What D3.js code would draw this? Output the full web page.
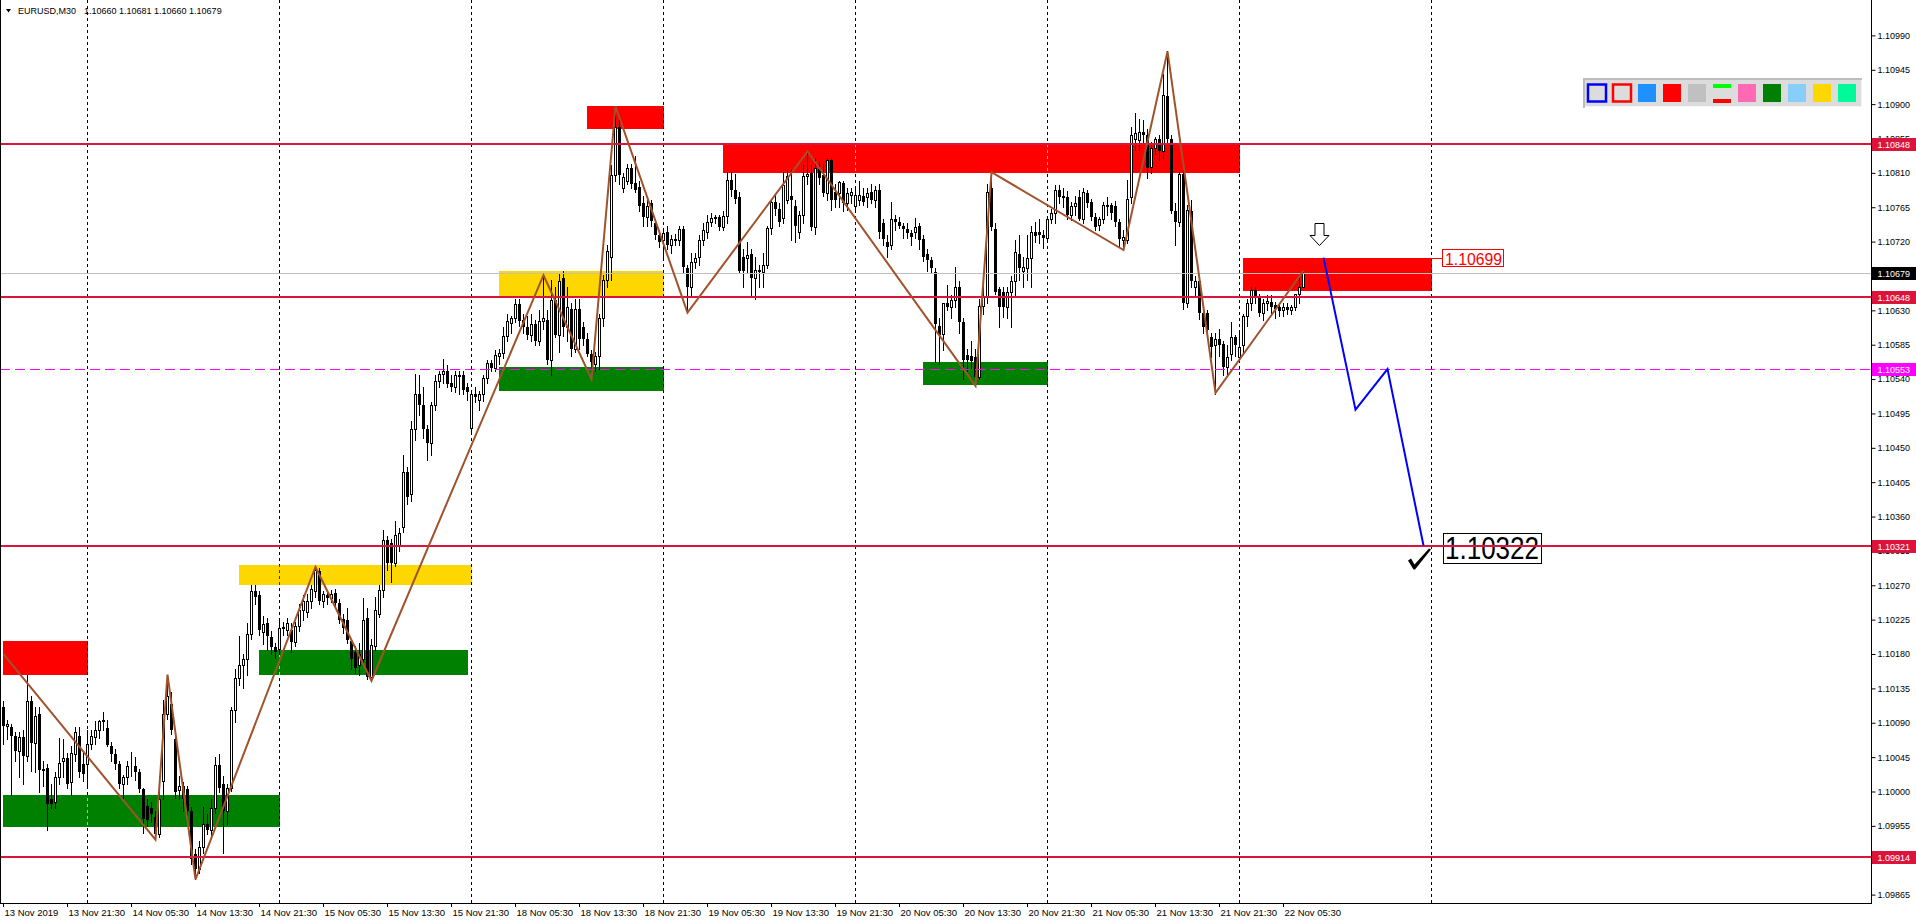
<!DOCTYPE html>
<html><head><meta charset="utf-8">
<script src="https://cdn.jsdelivr.net/npm/d3@7"></script>
<style>html,body{margin:0;padding:0;background:#fff;overflow:hidden}</style>
</head><body>
<svg id="c" width="1916" height="923" xmlns="http://www.w3.org/2000/svg"></svg>
<script>
// ---------------- DATA ----------------
const symbolName = "EURUSD,M30";
const headerOHLC = ["1.10660", "1.10681", "1.10660", "1.10679"];

// M30 bars from 13 Nov 2019 13:30 to 22 Nov 2019 08:00 : [open, high, low, close]
const candles = [
[1.10110,1.10119,1.10062,1.10086],[1.10086,1.10093,1.10069,1.10088],[1.10084,1.10088,1.09995,1.10073],[1.10073,1.10078,1.10040,1.10053],
[1.10053,1.10078,1.10019,1.10071],[1.10071,1.10080,1.10010,1.10047],[1.10047,1.10152,1.10040,1.10119],[1.10119,1.10125,1.10027,1.10063],
[1.10063,1.10110,1.10025,1.10099],[1.10101,1.10110,1.09999,1.10028],[1.10028,1.10040,1.10007,1.10029],[1.10031,1.10036,1.09949,1.09984],
[1.09990,1.10010,1.09978,1.09984],[1.09986,1.10025,1.09978,1.10019],[1.10019,1.10070,1.10010,1.10037],[1.10040,1.10069,1.10019,1.10044],
[1.10044,1.10050,1.10005,1.10010],[1.10012,1.10060,1.09995,1.10051],[1.10049,1.10084,1.10040,1.10078],[1.10073,1.10085,1.10019,1.10025],
[1.10036,1.10050,1.10014,1.10023],[1.10036,1.10080,1.10005,1.10062],[1.10062,1.10080,1.10055,1.10073],[1.10072,1.10092,1.10062,1.10080],
[1.10080,1.10094,1.10070,1.10092],[1.10092,1.10104,1.10080,1.10093],[1.10083,1.10093,1.10060,1.10061],[1.10059,1.10065,1.10040,1.10049],
[1.10049,1.10055,1.10030,1.10036],[1.10036,1.10040,1.10005,1.10010],[1.10010,1.10022,1.09992,1.10019],[1.10019,1.10040,1.10010,1.10033],
[1.10033,1.10052,1.10020,1.10034],[1.10034,1.10045,1.10015,1.10026],[1.10026,1.10030,1.09999,1.10003],[1.10003,1.10005,1.09946,1.09964],
[1.09981,1.09990,1.09955,1.09963],[1.09979,1.09986,1.09960,1.09970],[1.09966,1.09975,1.09938,1.09944],[1.09944,1.10020,1.09940,1.09990],
[1.10014,1.10120,1.09990,1.10102],[1.10102,1.10153,1.10095,1.10125],[1.10115,1.10130,1.10075,1.10080],[1.10069,1.10080,1.09992,1.09999],
[1.10002,1.10020,1.09990,1.10007],[1.10007,1.10012,1.09975,1.09990],[1.10003,1.10007,1.09960,1.09975],[1.09975,1.09980,1.09905,1.09911],
[1.09918,1.09925,1.09885,1.09898],[1.09898,1.09935,1.09893,1.09927],[1.09927,1.09980,1.09920,1.09957],[1.09957,1.09970,1.09945,1.09949],
[1.09949,1.09990,1.09940,1.09978],[1.09978,1.10045,1.09972,1.10035],[1.10035,1.10049,1.09999,1.10005],[1.10010,1.10020,1.09920,1.09975],
[1.09975,1.10010,1.09957,1.10005],[1.10005,1.10110,1.10000,1.10107],[1.10107,1.10160,1.10091,1.10149],[1.10149,1.10204,1.10140,1.10166],
[1.10166,1.10180,1.10135,1.10174],[1.10174,1.10220,1.10152,1.10206],[1.10206,1.10270,1.10200,1.10263],[1.10263,1.10270,1.10245,1.10255],
[1.10257,1.10262,1.10205,1.10212],[1.10209,1.10230,1.10193,1.10219],[1.10220,1.10227,1.10185,1.10204],[1.10202,1.10210,1.10180,1.10189],
[1.10189,1.10195,1.10175,1.10182],[1.10187,1.10225,1.10180,1.10214],[1.10215,1.10222,1.10205,1.10213],[1.10211,1.10227,1.10205,1.10220],
[1.10211,1.10220,1.10182,1.10196],[1.10196,1.10222,1.10190,1.10217],[1.10217,1.10245,1.10210,1.10237],[1.10237,1.10257,1.10225,1.10250],
[1.10235,1.10258,1.10228,1.10249],[1.10249,1.10270,1.10240,1.10265],[1.10263,1.10294,1.10255,1.10290],[1.10289,1.10292,1.10245,1.10250],
[1.10250,1.10262,1.10241,1.10258],[1.10257,1.10263,1.10245,1.10253],[1.10253,1.10264,1.10248,1.10259],[1.10260,1.10265,1.10240,1.10247],
[1.10247,1.10252,1.10220,1.10224],[1.10226,1.10232,1.10207,1.10214],[1.10225,1.10240,1.10195,1.10199],[1.10197,1.10200,1.10160,1.10174],
[1.10182,1.10190,1.10155,1.10162],[1.10165,1.10194,1.10152,1.10180],[1.10174,1.10254,1.10165,1.10225],[1.10227,1.10240,1.10147,1.10150],
[1.10150,1.10200,1.10145,1.10192],[1.10190,1.10255,1.10185,1.10237],[1.10232,1.10270,1.10228,1.10264],[1.10264,1.10342,1.10255,1.10329],
[1.10329,1.10335,1.10290,1.10299],[1.10326,1.10330,1.10274,1.10299],[1.10299,1.10354,1.10295,1.10336],[1.10321,1.10345,1.10315,1.10339],
[1.10346,1.10440,1.10340,1.10418],[1.10418,1.10425,1.10376,1.10386],[1.10389,1.10485,1.10380,1.10474],[1.10474,1.10546,1.10460,1.10521],
[1.10521,1.10545,1.10493,1.10506],[1.10506,1.10530,1.10463,1.10474],[1.10474,1.10480,1.10434,1.10456],[1.10456,1.10510,1.10441,1.10506],
[1.10506,1.10545,1.10500,1.10538],[1.10538,1.10550,1.10530,1.10547],[1.10546,1.10566,1.10535,1.10550],[1.10550,1.10558,1.10530,1.10533],
[1.10535,1.10545,1.10525,1.10530],[1.10530,1.10550,1.10523,1.10545],[1.10545,1.10550,1.10520,1.10543],[1.10545,1.10550,1.10520,1.10526],
[1.10530,1.10535,1.10513,1.10523],[1.10476,1.10525,1.10470,1.10521],[1.10521,1.10530,1.10510,1.10516],[1.10513,1.10525,1.10500,1.10520],
[1.10520,1.10545,1.10511,1.10541],[1.10541,1.10565,1.10535,1.10561],[1.10561,1.10565,1.10550,1.10555],[1.10555,1.10578,1.10550,1.10572],
[1.10570,1.10580,1.10560,1.10574],[1.10574,1.10608,1.10568,1.10596],[1.10596,1.10625,1.10590,1.10616],[1.10613,1.10623,1.10600,1.10620],
[1.10620,1.10645,1.10615,1.10638],[1.10638,1.10645,1.10610,1.10616],[1.10618,1.10625,1.10600,1.10608],[1.10608,1.10623,1.10593,1.10598],
[1.10598,1.10625,1.10590,1.10612],[1.10612,1.10618,1.10584,1.10590],[1.10590,1.10630,1.10585,1.10616],[1.10616,1.10676,1.10605,1.10620],
[1.10618,1.10630,1.10560,1.10565],[1.10565,1.10670,1.10545,1.10644],[1.10644,1.10660,1.10595,1.10598],[1.10598,1.10678,1.10576,1.10669],
[1.10673,1.10682,1.10596,1.10608],[1.10608,1.10660,1.10590,1.10634],[1.10632,1.10640,1.10570,1.10580],[1.10580,1.10645,1.10575,1.10632],
[1.10632,1.10645,1.10580,1.10593],[1.10608,1.10615,1.10585,1.10593],[1.10593,1.10600,1.10570,1.10573],[1.10573,1.10578,1.10540,1.10563],
[1.10560,1.10575,1.10550,1.10570],[1.10570,1.10625,1.10553,1.10620],[1.10620,1.10676,1.10610,1.10670],[1.10670,1.10715,1.10660,1.10708],
[1.10700,1.10820,1.10670,1.10807],[1.10807,1.10897,1.10800,1.10870],[1.10870,1.10885,1.10795,1.10807],[1.10790,1.10810,1.10785,1.10805],
[1.10800,1.10822,1.10795,1.10817],[1.10817,1.10822,1.10790,1.10795],[1.10797,1.10832,1.10785,1.10787],[1.10792,1.10800,1.10760,1.10767],
[1.10770,1.10780,1.10740,1.10752],[1.10752,1.10775,1.10740,1.10767],[1.10770,1.10775,1.10740,1.10747],[1.10745,1.10750,1.10723,1.10728],
[1.10728,1.10735,1.10713,1.10720],[1.10722,1.10735,1.10700,1.10731],[1.10733,1.10740,1.10710,1.10715],[1.10715,1.10728,1.10705,1.10724],
[1.10722,1.10730,1.10715,1.10724],[1.10722,1.10740,1.10715,1.10737],[1.10737,1.10740,1.10680,1.10687],[1.10685,1.10690,1.10628,1.10661],
[1.10661,1.10705,1.10650,1.10693],[1.10693,1.10705,1.10685,1.10698],[1.10700,1.10728,1.10690,1.10722],[1.10722,1.10745,1.10715,1.10735],
[1.10733,1.10755,1.10725,1.10746],[1.10746,1.10757,1.10740,1.10751],[1.10751,1.10755,1.10745,1.10752],[1.10752,1.10755,1.10735,1.10739],
[1.10739,1.10760,1.10735,1.10754],[1.10754,1.10811,1.10745,1.10801],[1.10801,1.10811,1.10780,1.10787],[1.10788,1.10809,1.10770,1.10776],
[1.10779,1.10785,1.10680,1.10682],[1.10700,1.10710,1.10661,1.10682],[1.10698,1.10720,1.10680,1.10703],[1.10704,1.10710,1.10650,1.10672],
[1.10672,1.10700,1.10645,1.10683],[1.10683,1.10690,1.10660,1.10680],[1.10680,1.10705,1.10660,1.10689],[1.10689,1.10740,1.10685,1.10738],
[1.10738,1.10774,1.10730,1.10772],[1.10772,1.10781,1.10755,1.10763],[1.10763,1.10770,1.10740,1.10746],[1.10751,1.10811,1.10745,1.10794],
[1.10775,1.10815,1.10770,1.10806],[1.10780,1.10815,1.10722,1.10774],[1.10766,1.10775,1.10720,1.10741],[1.10733,1.10760,1.10725,1.10755],
[1.10755,1.10820,1.10745,1.10806],[1.10806,1.10838,1.10795,1.10809],[1.10810,1.10820,1.10735,1.10739],[1.10739,1.10830,1.10730,1.10816],
[1.10815,1.10825,1.10795,1.10803],[1.10807,1.10822,1.10780,1.10783],[1.10783,1.10830,1.10775,1.10827],[1.10827,1.10830,1.10761,1.10774],
[1.10785,1.10795,1.10765,1.10774],[1.10784,1.10800,1.10765,1.10798],[1.10797,1.10800,1.10760,1.10771],[1.10770,1.10790,1.10762,1.10784],
[1.10781,1.10790,1.10770,1.10785],[1.10767,1.10790,1.10760,1.10781],[1.10775,1.10800,1.10768,1.10781],[1.10780,1.10790,1.10768,1.10772],
[1.10778,1.10790,1.10765,1.10783],[1.10785,1.10796,1.10770,1.10774],[1.10774,1.10793,1.10765,1.10787],[1.10788,1.10796,1.10725,1.10733],
[1.10744,1.10750,1.10715,1.10723],[1.10720,1.10728,1.10700,1.10713],[1.10715,1.10772,1.10710,1.10750],[1.10750,1.10755,1.10735,1.10746],
[1.10746,1.10752,1.10738,1.10741],[1.10741,1.10745,1.10725,1.10736],[1.10737,1.10745,1.10725,1.10731],[1.10731,1.10735,1.10715,1.10726],
[1.10733,1.10751,1.10725,1.10739],[1.10741,1.10745,1.10710,1.10722],[1.10724,1.10728,1.10695,1.10700],[1.10704,1.10710,1.10682,1.10696],
[1.10696,1.10700,1.10680,1.10686],[1.10680,1.10685,1.10562,1.10612],[1.10610,1.10620,1.10560,1.10598],[1.10599,1.10640,1.10578,1.10640],
[1.10640,1.10663,1.10630,1.10635],[1.10635,1.10650,1.10620,1.10643],[1.10643,1.10687,1.10635,1.10661],[1.10661,1.10668,1.10600,1.10615],
[1.10615,1.10620,1.10540,1.10565],[1.10571,1.10580,1.10551,1.10565],[1.10570,1.10590,1.10555,1.10564],[1.10569,1.10580,1.10531,1.10543],
[1.10543,1.10645,1.10540,1.10636],[1.10636,1.10660,1.10625,1.10648],[1.10648,1.10796,1.10640,1.10785],[1.10790,1.10811,1.10735,1.10739],
[1.10737,1.10745,1.10652,1.10654],[1.10658,1.10660,1.10608,1.10634],[1.10654,1.10660,1.10621,1.10634],[1.10634,1.10661,1.10620,1.10654],
[1.10654,1.10675,1.10608,1.10668],[1.10668,1.10722,1.10650,1.10707],[1.10704,1.10729,1.10670,1.10685],[1.10681,1.10700,1.10660,1.10687],
[1.10685,1.10729,1.10670,1.10699],[1.10698,1.10740,1.10660,1.10733],[1.10733,1.10746,1.10720,1.10727],[1.10732,1.10749,1.10718,1.10728],
[1.10728,1.10735,1.10711,1.10725],[1.10725,1.10752,1.10720,1.10750],[1.10750,1.10763,1.10745,1.10757],[1.10757,1.10794,1.10745,1.10787],
[1.10787,1.10794,1.10770,1.10778],[1.10780,1.10790,1.10765,1.10777],[1.10779,1.10786,1.10750,1.10755],[1.10755,1.10772,1.10748,1.10766],
[1.10766,1.10780,1.10755,1.10771],[1.10779,1.10787,1.10748,1.10750],[1.10750,1.10790,1.10745,1.10785],[1.10783,1.10787,1.10765,1.10770],
[1.10772,1.10776,1.10748,1.10752],[1.10752,1.10757,1.10735,1.10739],[1.10742,1.10752,1.10735,1.10750],[1.10750,1.10772,1.10745,1.10768],
[1.10766,1.10779,1.10755,1.10768],[1.10768,1.10770,1.10750,1.10757],[1.10767,1.10773,1.10740,1.10746],[1.10746,1.10750,1.10713,1.10724],
[1.10722,1.10735,1.10709,1.10726],[1.10722,1.10801,1.10718,1.10776],[1.10779,1.10870,1.10770,1.10860],[1.10854,1.10888,1.10840,1.10862],
[1.10853,1.10880,1.10840,1.10864],[1.10864,1.10879,1.10848,1.10860],[1.10860,1.10868,1.10803,1.10816],[1.10818,1.10850,1.10810,1.10842],
[1.10842,1.10857,1.10835,1.10854],[1.10854,1.10860,1.10827,1.10838],[1.10838,1.10940,1.10830,1.10912],[1.10910,1.10969,1.10850,1.10854],
[1.10854,1.10860,1.10758,1.10760],[1.10760,1.10770,1.10715,1.10746],[1.10746,1.10811,1.10740,1.10809],[1.10809,1.10815,1.10632,1.10639],
[1.10639,1.10768,1.10635,1.10761],[1.10760,1.10774,1.10660,1.10669],[1.10661,1.10675,1.10650,1.10669],[1.10668,1.10675,1.10619,1.10626],
[1.10626,1.10630,1.10600,1.10608],[1.10626,1.10630,1.10595,1.10604],[1.10595,1.10600,1.10569,1.10582],[1.10584,1.10600,1.10521,1.10593],
[1.10593,1.10605,1.10570,1.10584],[1.10586,1.10590,1.10545,1.10556],[1.10556,1.10585,1.10547,1.10569],[1.10573,1.10615,1.10565,1.10595],
[1.10595,1.10598,1.10570,1.10584],[1.10569,1.10600,1.10562,1.10582],[1.10584,1.10625,1.10573,1.10622],[1.10622,1.10645,1.10610,1.10639],
[1.10639,1.10660,1.10630,1.10656],[1.10656,1.10660,1.10640,1.10648],[1.10648,1.10652,1.10622,1.10626],[1.10626,1.10645,1.10617,1.10639],
[1.10639,1.10650,1.10630,1.10642],[1.10641,1.10650,1.10625,1.10634],[1.10637,1.10641,1.10620,1.10632],[1.10634,1.10638,1.10622,1.10629],
[1.10630,1.10640,1.10622,1.10635],[1.10635,1.10640,1.10625,1.10630],[1.10630,1.10637,1.10625,1.10634],[1.10634,1.10652,1.10630,1.10651],
[1.10651,1.10672,1.10640,1.10660],[1.10660,1.10681,1.10660,1.10679]
];

const timeLabels = ["13 Nov 2019","13 Nov 21:30","14 Nov 05:30","14 Nov 13:30","14 Nov 21:30","15 Nov 05:30","15 Nov 13:30",
  "15 Nov 21:30","18 Nov 05:30","18 Nov 13:30","18 Nov 21:30","19 Nov 05:30","19 Nov 13:30","19 Nov 21:30","20 Nov 05:30",
  "20 Nov 13:30","20 Nov 21:30","21 Nov 05:30","21 Nov 13:30","21 Nov 21:30","22 Nov 05:30"];
const timeLabelBars = [0,16,32,48,64,80,96,112,128,144,160,176,192,208,224,240,256,272,288,304,320];
const dayBars = [21,69,117,165,213,261,309,357];   // midnight separators

const priceTicks = [1.09865,1.09910,1.09955,1.10000,1.10045,1.10090,1.10135,1.10180,1.10225,1.10270,1.10315,1.10360,
  1.10405,1.10450,1.10495,1.10540,1.10585,1.10630,1.10675,1.10720,1.10765,1.10810,1.10855,1.10900,1.10945,1.10990];

const levelLines = [1.10848, 1.10648, 1.10321, 1.09914];
const currentPrice = 1.10679;
const dashedLevel = 1.10553;

// zones: [startBar, endBar, lowPrice, highPrice]
const redZones   = [[0,21,1.10153,1.10197],[146,165,1.10868,1.10898],[180,309,1.10810,1.10849],[310,357,1.10655,1.10699]];
const goldZones  = [[59,117,1.10270,1.10297],[124,165,1.10649,1.10681]];
const greenZones = [[0,69,1.09953,1.09995],[64,116,1.10153,1.10185],[124,165,1.10524,1.10556],[230,261,1.10532,1.10562]];

// zigzag swing points: [bar, price]
const zigzag = [[0,1.10180],[38,1.09937],[41,1.10153],[48,1.09885],[78,1.10294],[92,1.10145],[135,1.10676],[147,1.10540],
  [153,1.10897],[171,1.10627],[201,1.10838],[243,1.10531],[247,1.10811],[280,1.10709],[291,1.10969],[303,1.10522],[325,1.10682]];

// projected path: [bar, price]
const forecast = [[330,1.10699],[338,1.10500],[346,1.10553],[355,1.10322]];
const arrowMark = [329, 1.10715];
const zoneLabel = {bar:357, price:1.10699, text:"1.10699"};
const targetLabel = {bar:355, price:1.10322, text:"1.10322"};

const paletteColors = ["blueOutline","redOutline","#1E90FF","#FF0000","#C0C0C0","limeRed","#FF69B4","#008000","#87CEFA","#FFD700","#00FA9A"];

// ---------------- DRAW ----------------
const svg = d3.select("#c");
const FONT = "'Liberation Sans', Arial, sans-serif";
const plotR = 1871, plotB = 903;
const x = d3.scaleLinear().domain([0, 467]).range([3, 1871]);
const y = d3.scaleLinear().domain([1.09865, 1.10990]).range([894.6, 35.4]);
const ry = p => Math.round(y(p));

const clip = svg.append("defs").append("clipPath").attr("id","plot")
  .append("rect").attr("x",0).attr("y",0).attr("width",plotR).attr("height",plotB);
const plot = svg.append("g").attr("clip-path","url(#plot)");

// zones
const zoneSets = [
  {data: redZones, fill:"#FF0000", inv:"#00FFFF"},
  {data: goldZones, fill:"#FFD700", inv:"#0028FF"},
  {data: greenZones, fill:"#008000", inv:"#FF7FFF"}];
zoneSets.forEach(s => {
  plot.append("g").selectAll("rect").data(s.data).join("rect")
    .attr("x", d => x(d[0])).attr("width", d => x(d[1]) - x(d[0]) + 1)
    .attr("y", d => ry(d[3])).attr("height", d => ry(d[2]) - ry(d[3]))
    .attr("fill", s.fill);
});

// day separators (dashed)
plot.append("g").selectAll("line").data(dayBars).join("line")
  .attr("x1", d => x(d) + 0.5).attr("x2", d => x(d) + 0.5)
  .attr("y1", 0).attr("y2", plotB)
  .attr("stroke", "#000").attr("stroke-width", 1).attr("stroke-dasharray", "3,3");
// inverted separator segments inside zones
zoneSets.forEach(s => {
  s.data.forEach(z => {
    dayBars.forEach(g => {
      const gx = x(g) + 0.5;
      if (gx > x(z[0]) && gx < x(z[1])) {
        const y0 = ry(z[3]), y1 = ry(z[2]);
        plot.append("line").attr("x1", gx).attr("x2", gx).attr("y1", y0).attr("y2", y1)
          .attr("stroke", s.inv).attr("stroke-width", 1)
          .attr("stroke-dasharray", "3,3").attr("stroke-dashoffset", y0);
      }
    });
  });
});

// candles
const cg = plot.append("g").selectAll("g").data(candles).join("g");
cg.append("line")
  .attr("x1", (d,i) => x(i) + 0.5).attr("x2", (d,i) => x(i) + 0.5)
  .attr("y1", d => ry(d[1])).attr("y2", d => ry(d[2]) + 1)
  .attr("stroke", "#000").attr("stroke-width", 1);
cg.each(function(d, i) {
  const g = d3.select(this);
  const top = ry(Math.max(d[0], d[3])), bot = ry(Math.min(d[0], d[3]));
  if (d[3] >= d[0]) {
    g.append("rect").attr("x", x(i) - 0.5).attr("y", top + 0.5)
      .attr("width", 2).attr("height", Math.max(bot - top, 0))
      .attr("fill", "#fff").attr("stroke", "#000").attr("stroke-width", 1);
  } else {
    g.append("rect").attr("x", x(i) - 1).attr("y", top)
      .attr("width", 3).attr("height", Math.max(bot - top, 1)).attr("fill", "#000");
  }
});

// text labels on chart (boxes)
const zl = plot.append("g");
{
  const ax = x(zoneLabel.bar), ay = y(zoneLabel.price);
  zl.append("line").attr("x1", ax).attr("x2", ax + 11).attr("y1", Math.round(ay)+0.5).attr("y2", Math.round(ay)+0.5)
    .attr("stroke", "#FF0000").attr("stroke-width", 1);
  zl.append("rect").attr("x", ax + 11.5).attr("y", Math.round(ay) - 8.5).attr("width", 61).attr("height", 17)
    .attr("fill", "#fff").attr("stroke", "#FF0000").attr("stroke-width", 1);
  zl.append("text").attr("x", ax + 14).attr("y", Math.round(ay) + 6.5)
    .attr("font-family", FONT).attr("font-size", 17).attr("fill", "#FF0000")
    .attr("textLength", 57).attr("lengthAdjust", "spacingAndGlyphs").text(zoneLabel.text);
}
{
  const ax = x(targetLabel.bar), ay = Math.round(y(targetLabel.price));
  zl.append("rect").attr("x", ax + 20.5).attr("y", ay - 12.5).attr("width", 98).attr("height", 30)
    .attr("fill", "#fff").attr("stroke", "#000").attr("stroke-width", 1);
  zl.append("text").attr("x", ax + 22).attr("y", ay + 13)
    .attr("font-family", FONT).attr("font-size", 31).attr("fill", "#000")
    .attr("textLength", 94).attr("lengthAdjust", "spacingAndGlyphs").text(targetLabel.text);
}

// horizontal levels
plot.append("line").attr("x1", 0).attr("x2", plotR)
  .attr("y1", ry(currentPrice) + 0.5).attr("y2", ry(currentPrice) + 0.5)
  .attr("stroke", "#C0C0C0").attr("stroke-width", 1);
plot.append("line").attr("x1", 0).attr("x2", plotR)
  .attr("y1", ry(dashedLevel) + 0.5).attr("y2", ry(dashedLevel) + 0.5)
  .attr("stroke", "#FF00FF").attr("stroke-width", 1).attr("stroke-dasharray", "10,5");
plot.append("g").selectAll("line").data(levelLines).join("line")
  .attr("x1", 0).attr("x2", plotR).attr("y1", d => ry(d)).attr("y2", d => ry(d))
  .attr("stroke", "#DC143C").attr("stroke-width", 2);

// zigzag
const line = d3.line().x(d => x(d[0]) + 0.5).y(d => y(d[1]));
plot.append("path").attr("d", line(zigzag)).attr("fill", "none")
  .attr("stroke", "#A0522D").attr("stroke-width", 2).attr("stroke-linejoin", "miter");
// forecast
plot.append("path").attr("d", line(forecast)).attr("fill", "none")
  .attr("stroke", "#0000FF").attr("stroke-width", 2);

// arrow
{
  const ax = x(arrowMark[0]) + 0.5, ay = Math.round(y(arrowMark[1])) + 0.5;
  plot.append("path").attr("transform", `translate(${ax},${ay})`)
    .attr("d", "M-4.5,-22 H4.5 V-10 H9.5 L0,0 L-9.5,-10 H-4.5 Z")
    .attr("fill", "#fff").attr("stroke", "#000").attr("stroke-width", 1);
}
// check mark
{
  const ax = x(targetLabel.bar), ay = y(targetLabel.price);
  plot.append("path").attr("transform", `translate(${ax},${ay})`)
    .attr("d", "M-15,15 L-12,13 L-8.5,19 L6,3 L8,4 L-8,24 L-9.5,24 Z")
    .attr("fill", "#000");
}

// toolbar palette
{
  const tb = svg.append("g");
  tb.append("rect").attr("x", 1583).attr("y", 78).attr("width", 279).attr("height", 29).attr("fill", "#DCDCDC");
  tb.append("rect").attr("x", 1583).attr("y", 106).attr("width", 279).attr("height", 1).attr("fill", "#F4F4F4");
  tb.append("rect").attr("x", 1861).attr("y", 78).attr("width", 1).attr("height", 29).attr("fill", "#F4F4F4");
  tb.append("rect").attr("x", 1583).attr("y", 78).attr("width", 279).attr("height", 2).attr("fill", "#BDBDBD");
  tb.append("rect").attr("x", 1583).attr("y", 78).attr("width", 2).attr("height", 30).attr("fill", "#BDBDBD");
  paletteColors.forEach((c, k) => {
    const bx = 1588 + 25 * k, by = 84;
    if (c === "blueOutline" || c === "redOutline") {
      tb.append("rect").attr("x", bx + 0.5 - 0.5).attr("y", by + 0.5).attr("width", 18).attr("height", 17)
        .attr("fill", "none").attr("stroke", c === "blueOutline" ? "#0000FF" : "#FF0000").attr("stroke-width", 2.5);
    } else if (c === "limeRed") {
      tb.append("rect").attr("x", bx).attr("y", by).attr("width", 18).attr("height", 4).attr("fill", "#00FF00");
      tb.append("rect").attr("x", bx).attr("y", by + 15).attr("width", 18).attr("height", 4).attr("fill", "#FF0000");
    } else {
      tb.append("rect").attr("x", bx).attr("y", by).attr("width", 18).attr("height", 18).attr("fill", c);
    }
  });
}

// frame
svg.append("line").attr("x1", 0.5).attr("x2", 0.5).attr("y1", 0).attr("y2", plotB).attr("stroke", "#000");
svg.append("line").attr("x1", plotR + 0.5).attr("x2", plotR + 0.5).attr("y1", 0).attr("y2", plotB + 1).attr("stroke", "#000");
svg.append("line").attr("x1", 0).attr("x2", plotR + 1).attr("y1", plotB + 0.5).attr("y2", plotB + 0.5).attr("stroke", "#000");

// price axis
const ya = svg.append("g").attr("transform", `translate(${plotR + 0.5},0)`)
  .call(d3.axisRight(y).tickValues(priceTicks).tickFormat(d3.format(".5f")).tickSize(4).tickPadding(2));
ya.select(".domain").remove();
ya.selectAll("line").attr("stroke", "#000");
ya.selectAll("text").attr("font-family", FONT).attr("font-size", 9).attr("fill", "#000");

// time axis
const xa = svg.append("g").attr("transform", `translate(0,${plotB})`)
  .call(d3.axisBottom(x).tickValues(timeLabelBars).tickFormat((d, i) => timeLabels[i]).tickSize(4).tickPadding(2));
xa.select(".domain").remove();
xa.selectAll("line").attr("stroke", "#000");
xa.selectAll("text").attr("font-family", FONT).attr("font-size", 9.5).attr("fill", "#000")
  .attr("text-anchor", "start").attr("x", 1).attr("y", 4).attr("dy", "0.95em");

// axis price tags
const tags = levelLines.map(p => ({p, fill: "#DC143C"}))
  .concat([{p: currentPrice, fill: "#000000"}, {p: dashedLevel, fill: "#FF00FF"}]);
const tg = svg.append("g").selectAll("g").data(tags).join("g");
tg.append("rect").attr("x", plotR + 1).attr("y", d => ry(d.p) - 6).attr("width", 45).attr("height", 13).attr("fill", d => d.fill);
tg.append("text").attr("x", plotR + 6.5).attr("y", d => ry(d.p) + 3.7)
  .attr("font-family", FONT).attr("font-size", 9).attr("fill", "#fff").text(d => d3.format(".5f")(d.p));

// header
svg.append("path").attr("d", "M6,9 L11,9 L8.5,12.5 Z").attr("fill", "#000");
svg.append("text").attr("x", 18).attr("y", 14).attr("font-family", FONT).attr("font-size", 9).attr("fill", "#000").text(symbolName);
svg.append("text").attr("x", 84).attr("y", 14).attr("font-family", FONT).attr("font-size", 9).attr("fill", "#000").text(headerOHLC.join(" "));
</script>
</body></html>
